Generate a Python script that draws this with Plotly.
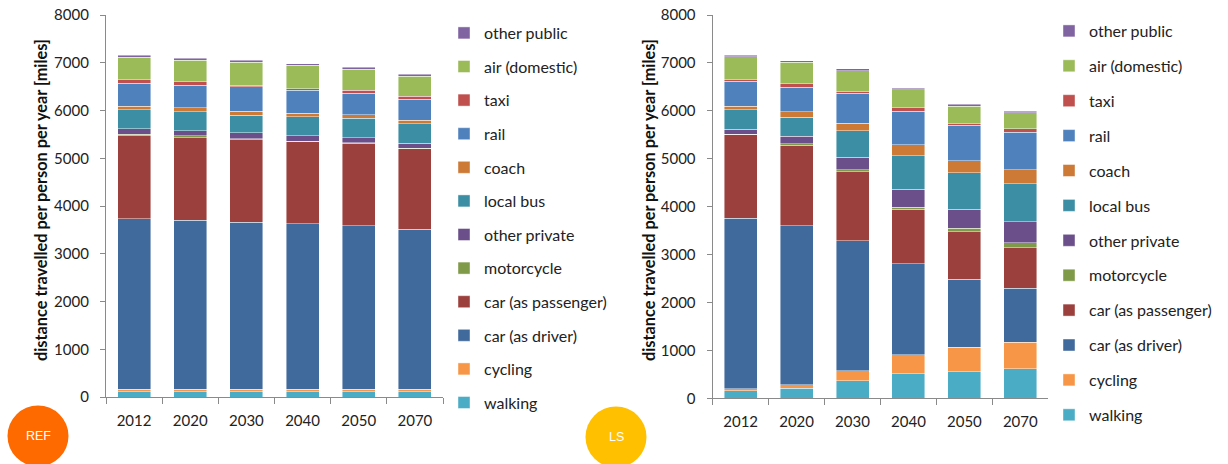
import plotly.graph_objects as go

years = ["2012", "2020", "2030", "2040", "2050", "2070"]
modes = ["walking", "cycling", "car (as driver)", "car (as passenger)", "motorcycle",
         "other private", "local bus", "coach", "rail", "taxi", "air (domestic)", "other public"]
colors = ["#4BACC6", "#F79646", "#416A9C", "#9C403D", "#7F9A48", "#6A4F8A",
          "#3B8EA3", "#CC7A36", "#4F81BD", "#C0504D", "#9BBB59", "#8064A2"]

# REF scenario (miles per person per year)
ref_walking = [115, 115, 115, 115, 115, 115]
ref_cycling = [50, 50, 50, 50, 50, 50]
ref_driver = [3570, 3535, 3493, 3464, 3422, 3347]
ref_passenger = [1735, 1730, 1730, 1717, 1725, 1688]
ref_motorcycle = [35, 42, 20, 15, 10, 10]
ref_other_private = [112, 105, 127, 111, 108, 102]
ref_local_bus = [400, 397, 370, 398, 406, 411]
ref_coach = [77, 84, 77, 70, 76, 77]
ref_rail = [475, 475, 516, 482, 448, 440]
ref_taxi = [75, 70, 35, 34, 62, 63]
ref_air = [476, 447, 482, 490, 446, 419]
ref_other_public = [42, 42, 42, 34, 42, 42]

# LS scenario
ls_walking = [160, 210, 366, 517, 552, 621]
ls_cycling = [40, 76, 213, 393, 510, 551]
ls_driver = [3559, 3317, 2711, 1897, 1421, 1125]
ls_passenger = [1747, 1676, 1441, 1138, 993, 841]
ls_motorcycle = [10, 35, 42, 41, 69, 110]
ls_other_private = [102, 153, 259, 382, 400, 435]
ls_local_bus = [405, 398, 551, 699, 759, 797]
ls_coach = [77, 112, 154, 223, 251, 293]
ls_rail = [516, 516, 628, 698, 740, 775]
ls_taxi = [35, 70, 35, 77, 35, 77]
ls_air = [475, 447, 440, 370, 370, 335]
ls_other_public = [35, 35, 34, 35, 41, 35]

ref_series = [ref_walking, ref_cycling, ref_driver, ref_passenger, ref_motorcycle,
              ref_other_private, ref_local_bus, ref_coach, ref_rail, ref_taxi,
              ref_air, ref_other_public]
ls_series = [ls_walking, ls_cycling, ls_driver, ls_passenger, ls_motorcycle,
             ls_other_private, ls_local_bus, ls_coach, ls_rail, ls_taxi,
             ls_air, ls_other_public]

W, H = 1228, 464
FONT = "Lato"

fig = go.Figure()
n = len(modes)
for i, name in enumerate(modes):
    fig.add_trace(go.Bar(x=years, y=ref_series[i], name=name, marker_color=colors[i],
                         marker_line=dict(color="rgba(255,255,255,0.55)", width=0.8),
                         xaxis="x", yaxis="y", legend="legend", legendgroup="a" + str(i),
                         legendrank=100 + n - i))
for i, name in enumerate(modes):
    fig.add_trace(go.Bar(x=years, y=ls_series[i], name=name, marker_color=colors[i],
                         marker_line=dict(color="rgba(255,255,255,0.55)", width=0.8),
                         xaxis="x2", yaxis="y2", legend="legend2", legendgroup="b" + str(i),
                         legendrank=100 + n - i))


def px_x(v):
    return v / W


def px_y(v):
    return 1 - v / H


axis_common = dict(showline=True, linecolor="#8a8a8a", linewidth=1.3, ticks="outside",
                   tickcolor="#8a8a8a", tickwidth=1.3, showgrid=False, zeroline=False,
                   automargin=False, ticklabeloverflow="allow",
                   tickfont=dict(family=FONT, size=15, color="#222"))

yaxis_common = dict(axis_common, range=[0, 8000], dtick=1000, ticklen=5, ticklabelstandoff=8)
xaxis_common = dict(axis_common, type="category", tickson="boundaries", ticklen=6,
                    ticklabelstandoff=10)

legend_common = dict(font=dict(family=FONT, size=16, color="#222"), traceorder="grouped",
                     bgcolor="rgba(0,0,0,0)", xanchor="left", yanchor="top",
                     itemwidth=30)

fig.update_layout(
    width=W, height=H, margin=dict(l=0, r=0, t=0, b=0, autoexpand=False),
    paper_bgcolor="white", plot_bgcolor="white",
    barmode="stack", bargap=0.41,
    xaxis=dict(xaxis_common, domain=[px_x(106), px_x(443)], anchor="y"),
    yaxis=dict(yaxis_common, domain=[px_y(397), px_y(15)], anchor="x"),
    xaxis2=dict(xaxis_common, domain=[px_x(712.7), px_x(1048.3)], anchor="y2"),
    yaxis2=dict(yaxis_common, domain=[px_y(398.3), px_y(15)], anchor="x2"),
    legend=dict(legend_common, x=px_x(444), y=px_y(16), tracegroupgap=9.8),
    legend2=dict(legend_common, x=px_x(1049), y=px_y(14), tracegroupgap=11.1),
    showlegend=True,
)

title_text = "distance travelled per person per year [miles]"
for xpx in (40, 648):
    fig.add_annotation(x=px_x(xpx), y=px_y(200), xref="paper", yref="paper", text=title_text,
                       textangle=-90, showarrow=False, xanchor="center", yanchor="middle",
                       font=dict(family=FONT, size=16.3, color="#111", weight="bold"))

# scenario badges
for cx, cy, r, col, label in [(38, 436, 30.5, "#FF6A00", "REF"), (616, 437, 30.5, "#FFC000", "LS")]:
    fig.add_shape(type="circle", xref="paper", yref="paper",
                  x0=px_x(cx - r), x1=px_x(cx + r), y0=px_y(cy + r), y1=px_y(cy - r),
                  fillcolor=col, line=dict(width=0), layer="above")
    fig.add_annotation(x=px_x(cx), y=px_y(cy), xref="paper", yref="paper", text=label,
                       showarrow=False, xanchor="center", yanchor="middle",
                       font=dict(family="Liberation Sans", size=12.5, color="white"))

# remove the default 8px page margin so the figure fills the window exactly
fig.write_html("out.html", config={"displayModeBar": False},
               post_script="document.body.style.margin='0';document.body.style.overflow='hidden';")
